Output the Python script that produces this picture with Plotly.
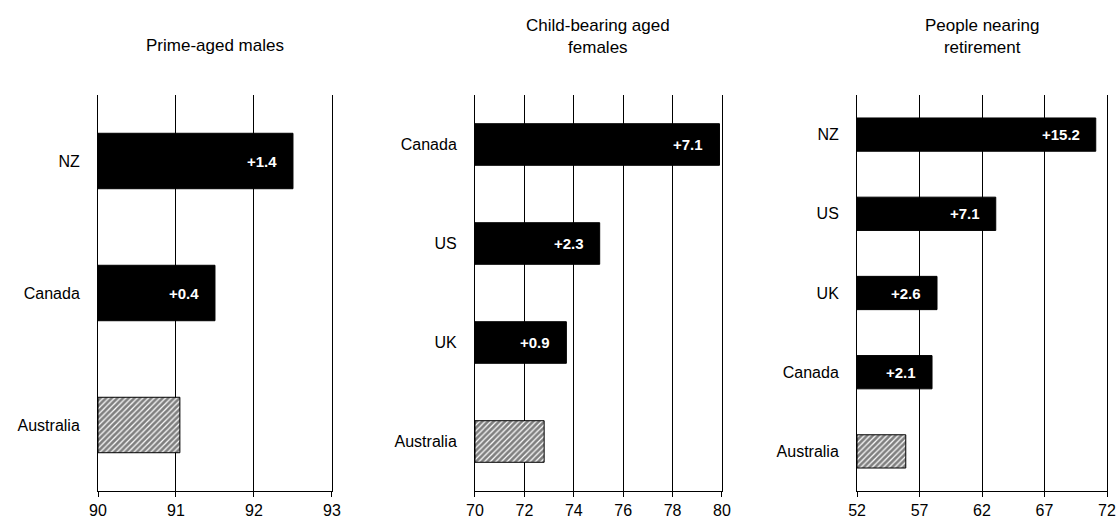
import plotly.graph_objects as go

# Panel 1: Prime-aged males
p1_title = "Prime-aged males"
p1_countries = ["Australia", "Canada", "NZ"]
p1_values = [91.05, 91.5, 92.5]
p1_labels = ["", "+0.4", "+1.4"]

# Panel 2: Child-bearing aged females
p2_title = "Child-bearing aged<br>females"
p2_countries = ["Australia", "UK", "US", "Canada"]
p2_values = [72.8, 73.7, 75.05, 79.9]
p2_labels = ["", "+0.9", "+2.3", "+7.1"]

# Panel 3: People nearing retirement
p3_title = "People nearing<br>retirement"
p3_countries = ["Australia", "Canada", "UK", "US", "NZ"]
p3_values = [55.9, 58.0, 58.4, 63.1, 71.1]
p3_labels = ["", "+2.1", "+2.6", "+7.1", "+15.2"]

panels = [
    dict(title=p1_title, cats=p1_countries, vals=p1_values, labels=p1_labels,
         rng=[90, 93], tick0=90, dtick=1, dom=[0.0875, 0.2964]),
    dict(title=p2_title, cats=p2_countries, vals=p2_values, labels=p2_labels,
         rng=[70, 80], tick0=70, dtick=2, dom=[0.4241, 0.6446]),
    dict(title=p3_title, cats=p3_countries, vals=p3_values, labels=p3_labels,
         rng=[52, 72], tick0=52, dtick=5, dom=[0.7652, 0.9884]),
]

FONT = "Liberation Sans, Arial, sans-serif"
ydom = [1 - 491 / 527, 1 - 95 / 527]

fig = go.Figure()
annotations = []
layout = {}
for i, p in enumerate(panels, start=1):
    xa = "x" if i == 1 else f"x{i}"
    ya = "y" if i == 1 else f"y{i}"
    shapes = ["/" if c == "Australia" else "" for c in p["cats"]]
    lo = p["rng"][0]
    fig.add_trace(go.Bar(
        x=[v - lo for v in p["vals"]], y=p["cats"], orientation="h",
        base=lo,
        xaxis=xa, yaxis=ya, width=0.42,
        marker=dict(color="black",
                    line=dict(color="black", width=1),
                    pattern=dict(shape=shapes, fgcolor="black", bgcolor="white",
                                 size=4, solidity=0.7, fillmode="overlay")),
        showlegend=False, hoverinfo="skip",
    ))
    for c, v, lab in zip(p["cats"], p["vals"], p["labels"]):
        if lab:
            annotations.append(dict(x=v, y=c, xref=xa, yref=ya, text=f"<b>{lab}</b>",
                                    showarrow=False, xanchor="right", xshift=-14,
                                    font=dict(color="white", size=15, family=FONT)))
    annotations.append(dict(x=sum(p["dom"]) / 2, y=1 - (45 if "<br>" not in p["title"] else 37) / 527,
                            xref="paper", yref="paper", text=p["title"], showarrow=False,
                            xanchor="center", yanchor="middle",
                            font=dict(size=17, color="black", family=FONT)))
    xkey = "xaxis" if i == 1 else f"xaxis{i}"
    ykey = "yaxis" if i == 1 else f"yaxis{i}"
    layout[xkey] = dict(domain=p["dom"], anchor=ya, range=p["rng"], tick0=p["tick0"],
                        dtick=p["dtick"], showgrid=True, gridcolor="black", gridwidth=1,
                        zeroline=False, showline=True, linecolor="black", linewidth=1,
                        ticks="outside", ticklen=5, tickcolor="black", automargin=False,
                        tickfont=dict(size=16, color="black", family=FONT), fixedrange=True)
    layout[ykey] = dict(domain=ydom, anchor=xa, type="category",
                        categoryorder="array", categoryarray=p["cats"],
                        showgrid=False, zeroline=False, showline=True, mirror=True,
                        linecolor="black", linewidth=1, ticks="", automargin=False,
                        ticklabelstandoff=14,
                        tickfont=dict(size=16, color="black", family=FONT), fixedrange=True)

fig.update_layout(
    width=1120, height=527,
    margin=dict(l=0, r=0, t=0, b=0, autoexpand=False),
    paper_bgcolor="white", plot_bgcolor="white",
    annotations=annotations,
    font=dict(family=FONT, color="black"),
    **layout,
)

fig.write_html("out.html", config={"displayModeBar": False},
               post_script="document.body.style.margin='0';document.body.style.overflow='hidden';")
